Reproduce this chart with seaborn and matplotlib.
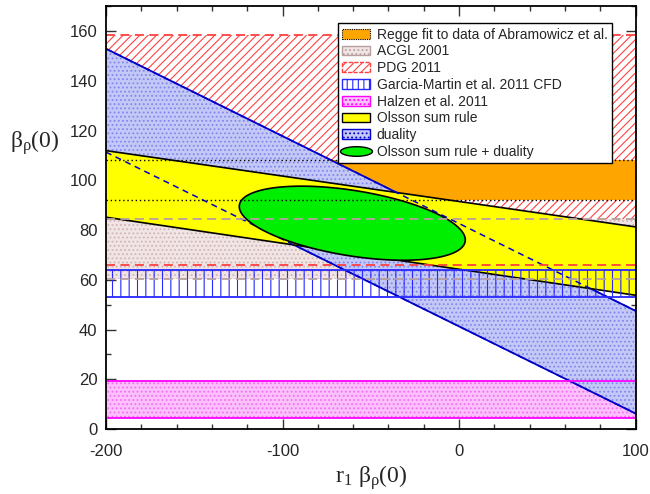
import numpy as np
import pandas as pd
import matplotlib
matplotlib.use("Agg")
import matplotlib.pyplot as plt
from matplotlib.ticker import MultipleLocator
from matplotlib.patches import Patch
from matplotlib.lines import Line2D
from matplotlib.path import Path
import seaborn as sns

# x extent of all bands
x_range = [-200, 100]

# sloped bands: values at x = -200 and x = 100
olsson_upper = [112.0, 81.3]
olsson_lower = [85.2, 53.8]
duality_upper = [153.0, 47.5]
duality_lower = [111.4, 6.2]

# horizontal bands (low, high)
regge = [92.1, 108.2]
acgl = [60.3, 84.6]
pdg = [65.8, 158.7]
garcia = [53.0, 63.8]
halzen = [4.4, 19.5]

# combined constraint ellipse: centre, half width, half height, tilt
ell_center = [-60.5, 82.8]
ell_halfwidth = 64.0
ell_halfheight = 13.3
ell_tilt = -0.105

legend_labels = ['Regge fit to data of Abramowicz et al.', 'ACGL 2001', 'PDG 2011',
                 'Garcia-Martin et al. 2011 CFD', 'Halzen et al. 2011', 'Olsson sum rule',
                 'duality', 'Olsson sum rule + duality']

sns.set_style('ticks')
plt.rcParams['font.family'] = ['Liberation Sans', 'DejaVu Sans']
plt.rcParams['mathtext.fontset'] = 'custom'
plt.rcParams['mathtext.rm'] = 'Liberation Serif'
plt.rcParams['mathtext.it'] = 'Liberation Serif'
plt.rcParams['mathtext.bf'] = 'Liberation Serif:bold'
plt.rcParams['axes.unicode_minus'] = False
plt.rcParams['hatch.linewidth'] = 0.8

lines = pd.DataFrame({
    'x': x_range * 4,
    'y': olsson_upper + olsson_lower + duality_upper + duality_lower,
    'band': ['ou'] * 2 + ['ol'] * 2 + ['du'] * 2 + ['dl'] * 2,
})

fig = plt.figure(figsize=(6.5, 4.94), dpi=100)
ax = fig.add_axes([0.163, 0.1316, 0.815, 0.8553])

c_pdg = '#ff4040'
c_acgl_face = '#f0e4e4'
c_acgl_dot = '#d2b4b4'
c_acgl_line = '#b8a0a0'
c_orange = '#ffa500'
c_dual_face = '#c4c8f6'
c_dual_dot = '#8088ee'
c_dual_line = '#0000c8'
c_garcia = '#2828ff'
c_halzen_face = '#fcc0fc'
c_halzen_dot = '#f070f0'
c_halzen_line = '#ff00ff'
c_yellow = '#ffff00'
c_green = '#00ee00'

# PDG 2011
ax.fill_between(x_range, pdg[0], pdg[1], facecolor='white', edgecolor=c_pdg,
                hatch='////', linewidth=0, zorder=1)
# ACGL 2001
ax.fill_between(x_range, acgl[0], acgl[1], facecolor=c_acgl_face, edgecolor=c_acgl_dot,
                hatch='....', linewidth=0, zorder=2)
# Regge fit
ax.fill_between(x_range, regge[0], regge[1], facecolor=c_orange, linewidth=0, zorder=3)
# Halzen
ax.fill_between(x_range, halzen[0], halzen[1], facecolor=c_halzen_face, edgecolor=c_halzen_dot,
                hatch='....', linewidth=0, zorder=3)
# duality
ax.fill_between(x_range, duality_lower, duality_upper, facecolor=c_dual_face,
                edgecolor=c_dual_dot, hatch='....', linewidth=0, zorder=4)
sns.lineplot(data=lines[lines.band.isin(['du', 'dl'])], x='x', y='y', units='band',
             estimator=None, color=c_dual_line, lw=1.3, zorder=4.5, ax=ax)
# Olsson sum rule
ax.fill_between(x_range, olsson_lower, olsson_upper, facecolor=c_yellow, linewidth=0, zorder=5)
sns.lineplot(data=lines[lines.band.isin(['ou', 'ol'])], x='x', y='y', units='band',
             estimator=None, color='black', lw=1.2, zorder=5.5, ax=ax)
# Garcia-Martin
ax.fill_between(x_range, garcia[0], garcia[1], facecolor='none', edgecolor=c_garcia,
                hatch='||', linewidth=0, zorder=6)
# duality edges seen through the yellow band
sns.lineplot(data=lines[lines.band.isin(['du', 'dl'])], x='x', y='y', units='band',
             estimator=None, color=c_dual_line, lw=1.1, ls=(0, (4, 3)), zorder=6.5, ax=ax)

# Olsson sum rule + duality ellipse
t = np.linspace(0, 2 * np.pi, 200)
ex = ell_center[0] + ell_halfwidth * np.cos(t)
ey = ell_center[1] + ell_tilt * ell_halfwidth * np.cos(t) + ell_halfheight * np.sin(t)
ax.fill(ex, ey, facecolor=c_green, edgecolor='black', lw=1.2, zorder=7)

# band boundaries
for v in regge:
    ax.axhline(v, color='black', lw=1.0, ls=(0, (1, 2)), zorder=8)
for v in acgl:
    ax.axhline(v, color=c_acgl_line, lw=1.3, ls=(0, (5, 3)), zorder=8)
for v in pdg:
    ax.axhline(v, color=c_pdg, lw=1.3, ls=(0, (5, 3)), zorder=8)
for v in garcia:
    ax.axhline(v, color=c_garcia, lw=1.3, zorder=8)
for v in halzen:
    ax.axhline(v, color=c_halzen_line, lw=1.3, zorder=8)

ax.set_xlim(-200, 100)
ax.set_ylim(0, 170)
ax.xaxis.set_major_locator(MultipleLocator(100))
ax.xaxis.set_minor_locator(MultipleLocator(20))
ax.yaxis.set_major_locator(MultipleLocator(20))
ax.yaxis.set_minor_locator(MultipleLocator(10))
ax.set_yticks([0, 20, 40, 60, 80, 100, 120, 140, 160])
ax.tick_params(which='both', direction='in', top=True, right=True, color='#333333', width=1.0)
ax.tick_params(which='major', length=7, labelsize=12)
ax.tick_params(which='minor', length=3.5)
ax.tick_params(axis='x', pad=11)
ax.tick_params(axis='y', pad=6)
for s in ax.spines.values():
    s.set_linewidth(1.3)
    s.set_color('black')
    s.set_zorder(10)

ax.set_xlabel(r'$\mathrm{r}_1\ \beta_\rho(0)$', fontsize=17, va='center')
ax.set_ylabel(r'$\beta_\rho(0)$', fontsize=17, rotation=0, va='center', ha='center')
ax.xaxis.set_label_coords(0.5, -0.115)
ax.yaxis.set_label_coords(-0.134, 0.677)

ell_t = np.linspace(0, 2 * np.pi, 60)
ell_marker = Path(np.column_stack([np.cos(ell_t), 0.3 * np.sin(ell_t)]), closed=True)
handles = [
    Patch(facecolor=c_orange, edgecolor='black', ls=(0, (1, 1)), lw=0.8),
    Patch(facecolor=c_acgl_face, edgecolor=c_acgl_line, hatch='....', lw=1.0),
    Patch(facecolor='white', edgecolor=c_pdg, hatch='////', ls=(0, (3, 1)), lw=1.0),
    Patch(facecolor='white', edgecolor=c_garcia, hatch='|||', lw=1.0),
    Patch(facecolor=c_halzen_face, edgecolor=c_halzen_line, hatch='....', lw=1.0),
    Patch(facecolor=c_yellow, edgecolor='black', lw=1.0),
    Patch(facecolor=c_dual_face, edgecolor=c_dual_line, hatch='....', lw=1.0),
    Line2D([], [], marker=ell_marker, markersize=23, markerfacecolor=c_green,
           markeredgecolor='black', markeredgewidth=1.0, ls='none'),
]
leg = ax.legend(handles, legend_labels, loc='upper right', bbox_to_anchor=(0.955, 0.96),
                borderaxespad=0, fontsize=10, frameon=True, fancybox=False, framealpha=1,
                edgecolor='black', labelspacing=0.2, borderpad=0.3, handletextpad=0.5,
                handlelength=2.0, numpoints=1)
leg.get_frame().set_linewidth(1.0)
leg.set_zorder(12)

fig.savefig('out.png', dpi=100)
